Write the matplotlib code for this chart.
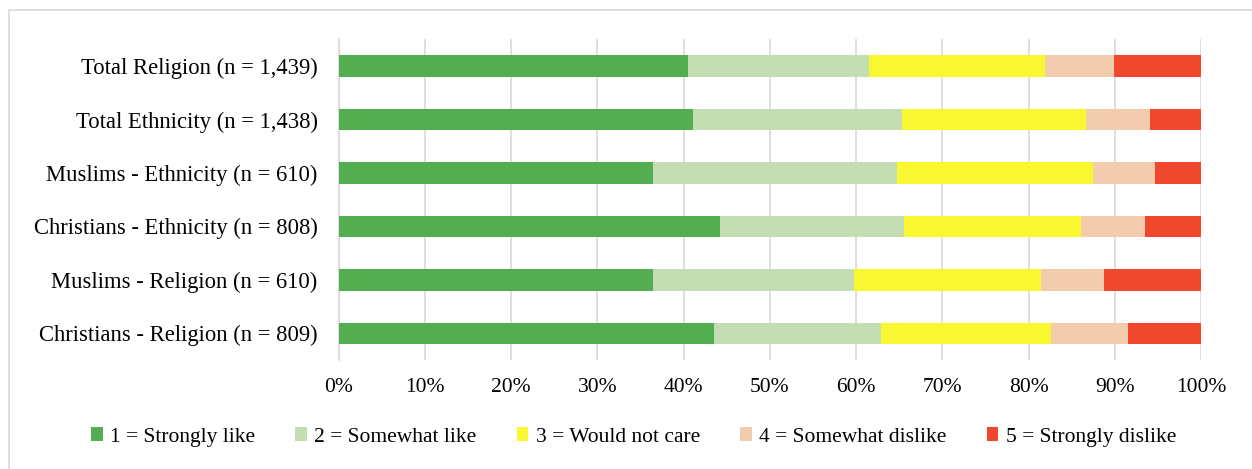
import numpy as np
import matplotlib.pyplot as plt
from matplotlib.lines import Line2D

# groups listed top to bottom
groups = ["Total Religion (n = 1,439)", "Total Ethnicity (n = 1,438)",
          "Muslims - Ethnicity (n = 610)", "Christians - Ethnicity (n = 808)",
          "Muslims - Religion (n = 610)", "Christians - Religion (n = 809)"]
answers = ["1 = Strongly like", "2 = Somewhat like", "3 = Would not care",
           "4 = Somewhat dislike", "5 = Strongly dislike"]

# shares in percent, one list per answer (same order as groups)
strongly_like = [40.5, 41.1, 36.5, 44.2, 36.4, 43.5]
somewhat_like = [21.0, 24.2, 28.2, 21.3, 23.3, 19.4]
would_not_care = [20.4, 21.3, 22.8, 20.5, 21.7, 19.7]
somewhat_dislike = [8.0, 7.4, 7.1, 7.5, 7.3, 8.9]
strongly_dislike = [10.1, 6.0, 5.4, 6.5, 11.3, 8.5]

colors = ["#52AE51", "#C4DDB2", "#F9F730", "#F3CBAD", "#EF482F"]

plt.rcParams['font.family'] = ['Liberation Serif', 'DejaVu Serif']
fs = 15.5

fig = plt.figure(figsize=(12.52, 4.69), dpi=100)
ax = fig.add_axes([0.2704, 0.2324, 0.9595 - 0.2704, 0.9163 - 0.2324])

series = [strongly_like, somewhat_like, would_not_care, somewhat_dislike, strongly_dislike]
y = np.arange(len(groups))
left = np.zeros(len(groups))
handles = []
for vals, col, lab in zip(series, colors, answers):
    v = np.array(vals) / 100
    h = ax.barh(y, v, left=left, height=0.4, color=col, label=lab, zorder=3)
    handles.append(h)
    left += v

ax.set_xlim(0, 1)
ax.set_ylim(len(groups) - 0.5, -0.5)
ax.set_yticks(y)
ax.set_yticklabels(groups, fontsize=16.3)
ax.set_xticks(np.linspace(0, 1, 11))
ax.set_xticklabels([f"{int(t)}%" for t in np.linspace(0, 100, 11)], fontsize=fs)
ax.tick_params(length=0)
ax.tick_params(axis='y', pad=15)
ax.tick_params(axis='x', pad=13)
ax.grid(axis='x', color='#D9D9D9', linewidth=1.2, zorder=0)
for s in ['top', 'right', 'bottom']:
    ax.spines[s].set_visible(False)
ax.spines['left'].set_color('#D9D9D9')
ax.spines['left'].set_linewidth(1.2)

fig.legend(handles=handles, loc='center', bbox_to_anchor=(0.506, 0.068), ncol=5,
           frameon=False, fontsize=fs, handlelength=0.55, handleheight=0.6,
           handletextpad=0.35, columnspacing=1.85)

# outer frame, open at right and bottom (cut by the image edge)
fx0, fy0 = 9 / 1252, 1 - 10 / 469
fig.add_artist(Line2D([fx0, 1], [fy0, fy0], transform=fig.transFigure,
                      color='#D9D9D9', linewidth=1.2))
fig.add_artist(Line2D([fx0, fx0], [0, fy0], transform=fig.transFigure,
                      color='#D9D9D9', linewidth=1.2))

fig.savefig("out.png", dpi=100)
